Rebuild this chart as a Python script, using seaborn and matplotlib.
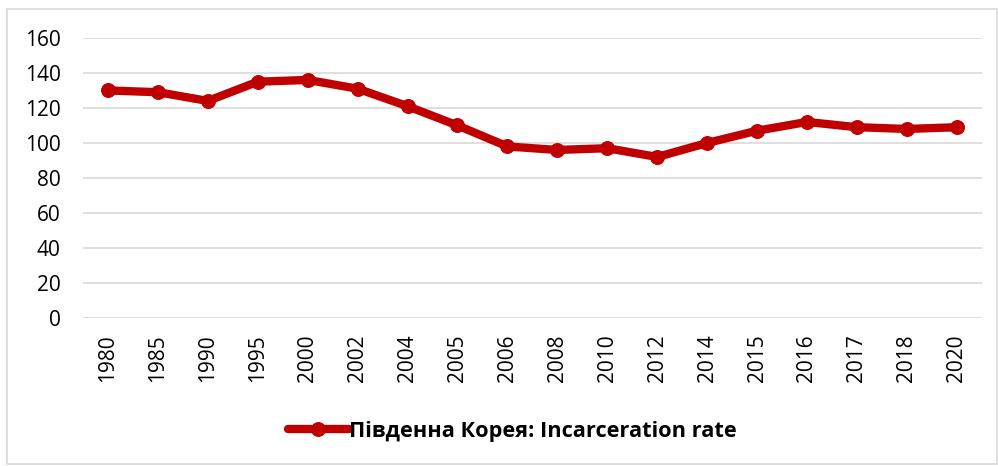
import pandas as pd
import matplotlib.pyplot as plt
import seaborn as sns
from matplotlib.patches import Rectangle

# Data
years = ['1980', '1985', '1990', '1995', '2000', '2002', '2004', '2005', '2006',
         '2008', '2010', '2012', '2014', '2015', '2016', '2017', '2018', '2020']
rate = [130, 129, 124, 135, 136, 131, 121, 110, 98,
        96, 97, 92, 100, 107, 112, 109, 108, 109]
series_name = 'Південна Корея: Incarceration rate'

df = pd.DataFrame({'Year': years, 'Rate': rate})

sns.set_style('white')
plt.rcParams['font.family'] = ['Open Sans', 'DejaVu Sans']

fig = plt.figure(figsize=(9.98, 4.66), dpi=100)
ax = fig.add_axes([0.0832, 0.3176, 0.9005, 0.601])

red = '#C00000'
sns.lineplot(data=df, x='Year', y='Rate', sort=False, ax=ax, color=red,
             linewidth=6, marker='o', markersize=10, markeredgecolor=red,
             label=series_name, legend=False)

ax.set_ylim(0, 160)
ax.set_xlim(-0.5, len(years) - 0.5)
ax.set_yticks(range(0, 161, 20))
ax.yaxis.grid(True, color='#D9D9D9', linewidth=1.2)
ax.set_axisbelow(True)
for s in ax.spines.values():
    s.set_visible(False)
ax.tick_params(axis='both', length=0, labelsize=15, colors='black')
ax.tick_params(axis='y', pad=16)
ax.tick_params(axis='x', pad=12)
plt.setp(ax.get_xticklabels(), rotation=90)
ax.set_xlabel('')
ax.set_ylabel('')

handles, labels = ax.get_legend_handles_labels()
fig.legend(handles, labels, loc='center', bbox_to_anchor=(0.513, 0.075),
           frameon=False, handlelength=2.8, handletextpad=0.0,
           labelcolor='black', prop={'size': 15.7, 'weight': 'bold'})

# light border around the chart area
fig.patches.append(Rectangle((0.007, 0.005), 0.992, 0.976, transform=fig.transFigure,
                             fill=False, edgecolor='#D9D9D9', linewidth=1.2))

fig.savefig('out.png', dpi=100)
